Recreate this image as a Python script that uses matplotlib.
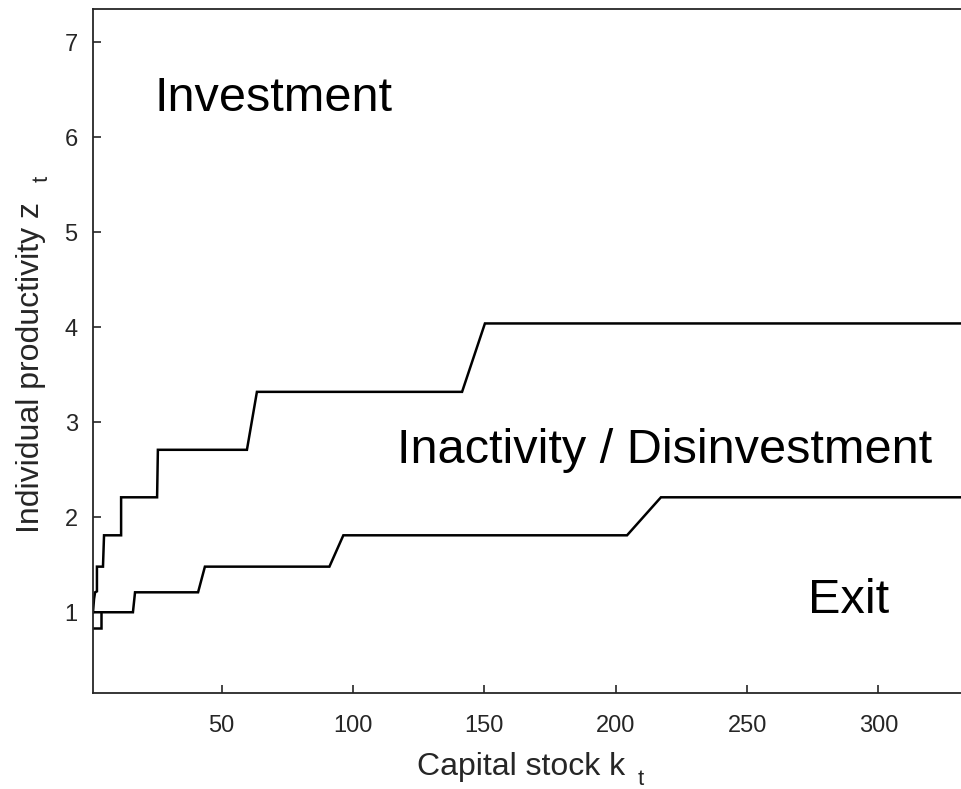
import matplotlib.pyplot as plt

# upper threshold (investment boundary)
k_up = [1, 1.4, 1.8, 2.5, 2.5, 4.8, 5.2, 11.7, 11.7, 25.4, 25.7, 59.6, 63.4, 141.5, 150.2, 340]
z_up = [1.0, 1.14, 1.21, 1.22, 1.48, 1.48, 1.81, 1.81, 2.21, 2.21, 2.71, 2.71, 3.32, 3.32, 4.04, 4.04]

# lower threshold (exit boundary)
k_lo = [1, 16.2, 17.0, 41.0, 43.6, 91.0, 96.3, 204.3, 217.2, 340]
z_lo = [1.0, 1.0, 1.21, 1.21, 1.48, 1.48, 1.81, 1.81, 2.21, 2.21]

# small corner piece at the left edge
k_box = [1, 4.0, 4.0]
z_box = [0.83, 0.83, 1.0]

x_ticks = [50, 100, 150, 200, 250, 300]
y_ticks = [1, 2, 3, 4, 5, 6, 7]

W, H = 961, 789
plt.rcParams['font.family'] = ['Liberation Sans', 'DejaVu Sans']
fig = plt.figure(figsize=(W / 100, H / 100), dpi=100)
ax = fig.add_axes([93 / W, 96 / H, (983.5 - 93) / W, (693 - 9) / H])

for k, z in [(k_up, z_up), (k_lo, z_lo), (k_box, z_box)]:
    ax.plot(k, z, color='black', lw=1.8, solid_joinstyle='miter')

ax.set_xlim(1, 340)
ax.set_ylim(0.15, 7.35)
ax.set_xticks(x_ticks)
ax.set_yticks(y_ticks)

gray = '#262626'
ax.tick_params(direction='in', length=6, width=1.2, colors=gray, labelsize=17)
ax.tick_params(axis='x', pad=16)
ax.tick_params(axis='y', pad=11)
for s in ax.spines.values():
    s.set_color(gray)
    s.set_linewidth(1.3)

ax.text(24.6, 6.28, 'Investment', fontsize=35, color='black', va='baseline')
ax.text(116.7, 2.57, 'Inactivity / Disinvestment', fontsize=35, color='black', va='baseline')
ax.text(273.2, 0.99, 'Exit', fontsize=35, color='black', va='baseline')

# axis labels with spaced-out subscript t, as in the original
fig.text(417 / W, 1 - 775 / H, 'Capital stock k', fontsize=23, color=gray, va='baseline')
fig.text(638 / W, 1 - 785 / H, 't', fontsize=16, color=gray, va='baseline')
fig.text(39 / W, 1 - 533 / H, 'Individual productivity z', fontsize=23, color=gray,
         rotation=90, rotation_mode='anchor', ha='left', va='baseline')
fig.text(48 / W, 1 - 182 / H, 't', fontsize=16, color=gray,
         rotation=90, rotation_mode='anchor', ha='left', va='baseline')

fig.savefig('out.png', dpi=100)
